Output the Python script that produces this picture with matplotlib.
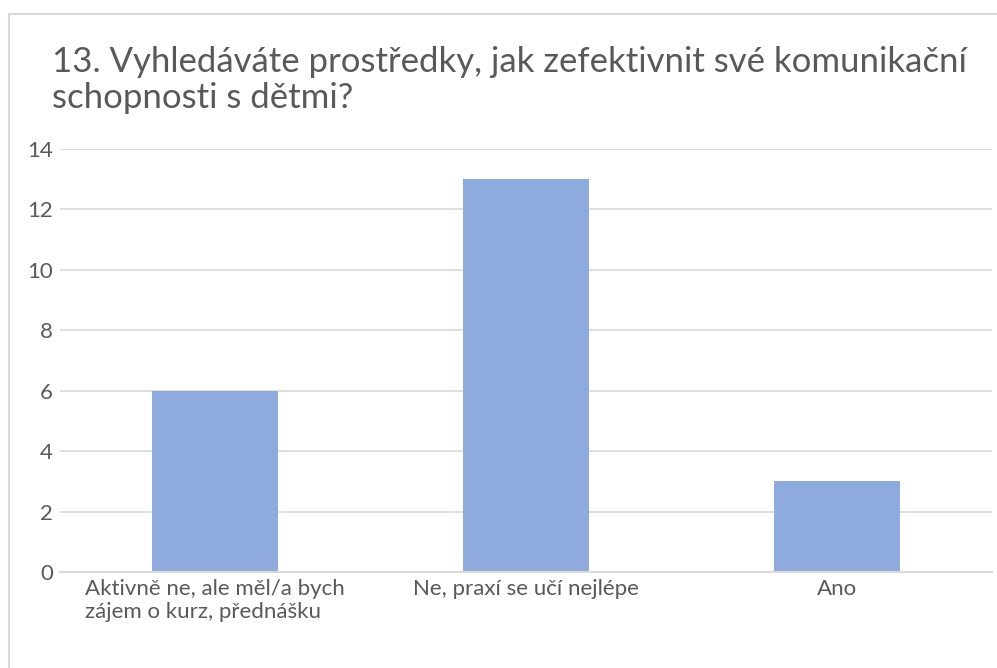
import matplotlib.pyplot as plt
from matplotlib.patches import Rectangle

# Data
categories = ["Aktivně ne, ale měl/a bych\nzájem o kurz, přednášku",
              "Ne, praxí se učí nejlépe",
              "Ano"]
counts = [6, 13, 3]
yticks = [0, 2, 4, 6, 8, 10, 12, 14]

plt.rcParams['font.family'] = ['Lato', 'DejaVu Sans']
text_color = "#595959"
grid_color = "#d9d9d9"

fig = plt.figure(figsize=(9.97, 6.68), dpi=100)
W, H = 997, 668

# chart border (Excel-like frame)
fig.patches.append(Rectangle((8.5 / W, -0.1), 1.2, 1 - 14.5 / H + 0.1,
                             transform=fig.transFigure, fill=False,
                             edgecolor=grid_color, linewidth=1.5))

ax = fig.add_axes([60 / W, 1 - 572 / H, 932 / W, (572 - 149) / H])
x = range(len(categories))
ax.bar(x, counts, width=0.405, color="#8faadc", zorder=2)

ax.set_xlim(-0.5, len(categories) - 0.5)
ax.set_ylim(0, 14)
ax.set_yticks(yticks)
ax.set_xticks(list(x))
ax.set_xticklabels(categories, multialignment='left')
ax.yaxis.grid(True, color=grid_color, linewidth=1.2, zorder=0)
ax.set_axisbelow(True)

for s in ["top", "right", "left"]:
    ax.spines[s].set_visible(False)
ax.spines["bottom"].set_color(grid_color)
ax.spines["bottom"].set_linewidth(1.5)

ax.tick_params(axis="both", length=0, labelsize=16, colors=text_color)
ax.tick_params(axis="y", pad=5)
ax.tick_params(axis="x", pad=5)

fig.text(52 / W, 1 - 46 / H,
         "13. Vyhledáváte prostředky, jak zefektivnit své komunikační\nschopnosti s dětmi?",
         fontsize=25, color=text_color, ha="left", va="top", linespacing=1.15)

fig.savefig("out.png", dpi=100)
